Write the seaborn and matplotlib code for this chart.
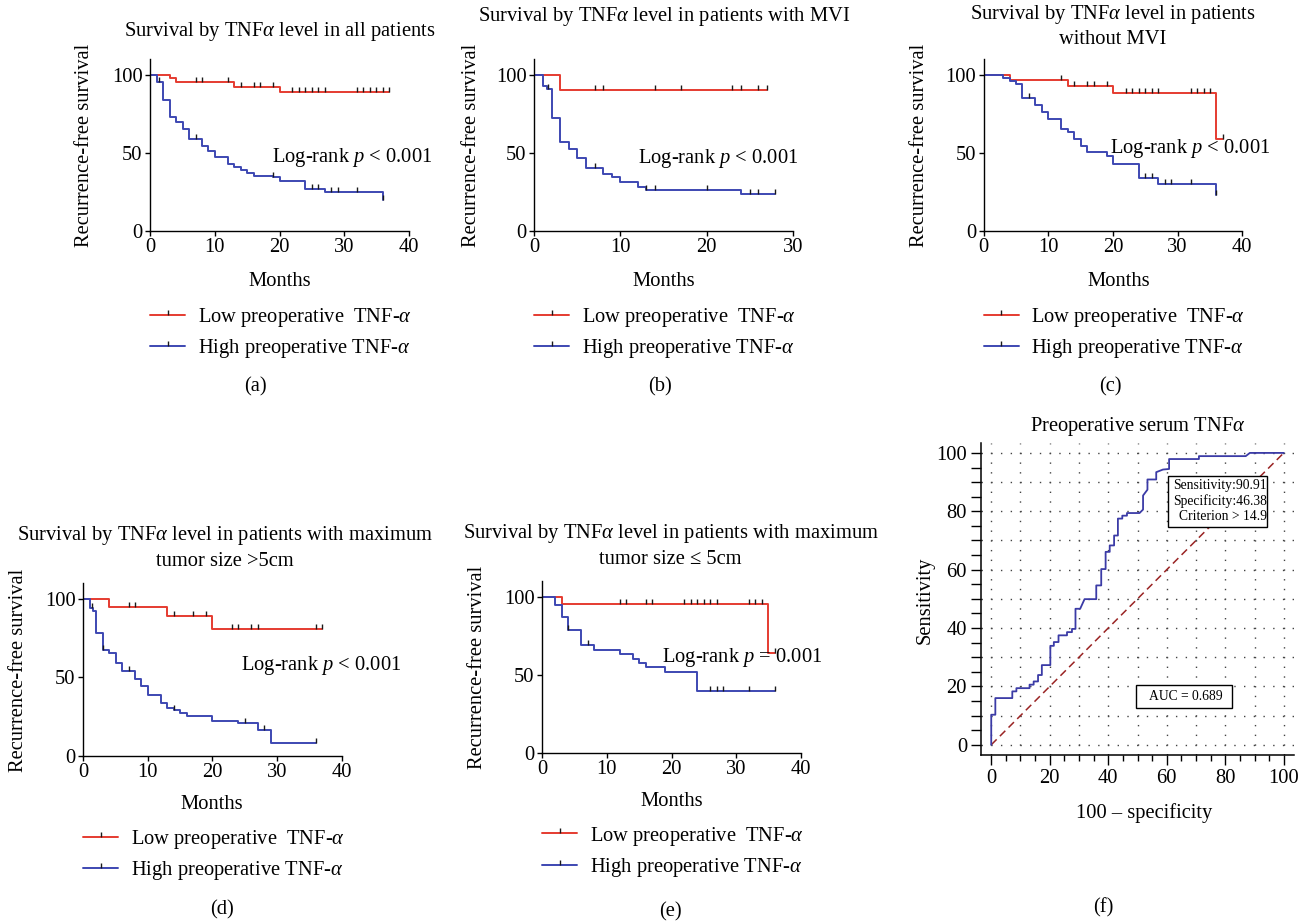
import numpy as np
import pandas as pd
import matplotlib
matplotlib.use("Agg")
import matplotlib.pyplot as plt
import seaborn as sns
from matplotlib.lines import Line2D
from matplotlib.patches import Rectangle
from matplotlib.ticker import MultipleLocator

sns.set_theme(style="ticks")
plt.rcParams["font.family"] = ["Liberation Serif", "DejaVu Serif"]
plt.rcParams["mathtext.fontset"] = "custom"
plt.rcParams["mathtext.rm"] = "Liberation Serif"
plt.rcParams["mathtext.it"] = "Liberation Serif:italic"
plt.rcParams["axes.edgecolor"] = "black"
plt.rcParams["xtick.color"] = "black"
plt.rcParams["ytick.color"] = "black"
plt.rcParams["text.color"] = "black"

# ---------------- data ----------------
# (a) all patients
a_low_t = [0, 3, 4, 13, 20, 37]
a_low_s = [100, 97.8, 95.3, 92.3, 89.0, 89.0]
a_low_c = [7, 8, 12, 14, 16, 17, 19, 22, 23, 24, 25, 26, 27, 32, 33, 34, 35, 36, 37]
a_high_t = [0, 1, 2, 3, 4, 5, 6, 8, 9, 10, 12, 13, 14, 15, 16, 19, 20, 24, 27, 36]
a_high_s = [100, 95.5, 84, 73.2, 69.8, 65.5, 58.5, 54.5, 50.8, 47.5, 42.8, 41, 39, 37.2, 35.3, 34.2, 31.8, 26.8, 24.8, 19.8]
a_high_c = [1.3, 7, 19, 25, 26, 28, 29, 32, 36]

# (b) patients with MVI
b_low_t = [0, 3, 27]
b_low_s = [100, 90.3, 90.3]
b_low_c = [7, 8, 14, 17, 23, 24, 26, 27]
b_high_t = [0, 1, 1.5, 2, 3, 4, 5, 6, 8, 9, 10, 12, 13, 24, 28]
b_high_s = [100, 93, 91, 72.5, 56.7, 52.1, 46.4, 40.5, 36.3, 34.2, 31.1, 27.7, 25.8, 23.7, 23.7]
b_high_c = [1.6, 7, 13, 14, 20, 25, 26, 28]

# (c) patients without MVI
c_low_t = [0, 4, 13, 20, 36, 37]
c_low_s = [100, 96.5, 92.8, 88.0, 58.5, 58.5]
c_low_c = [12, 14, 16, 17, 19, 22, 23, 24, 25, 26, 27, 32, 33, 34, 35, 37]
c_high_t = [0, 3, 4, 5, 6, 8, 9, 10, 12, 13, 14, 15, 16, 19, 20, 24, 27, 36]
c_high_s = [100, 97.7, 96, 93.8, 85, 80.5, 76, 71.5, 65.5, 63, 58.8, 54.5, 50.2, 48, 43, 33.5, 30.2, 23.2]
c_high_c = [7, 25, 26, 28, 29, 32, 36]

# (d) maximum tumor size > 5 cm
d_low_t = [0, 4, 13, 20, 37]
d_low_s = [100, 94.9, 88.9, 81.0, 81.0]
d_low_c = [7, 8, 14, 17, 19, 23, 24, 26, 27, 36, 37]
d_high_t = [0, 1, 1.5, 2, 3, 4, 5, 6, 8, 9, 10, 12, 13, 14, 15, 16, 20, 24, 27, 29, 36]
d_high_s = [100, 94.5, 92.5, 78.6, 67.2, 65.3, 59.4, 54, 48.7, 44.5, 38.7, 33.4, 30.4, 28.9, 27.4, 25.3, 22.3, 20.6, 16.4, 8.3, 8.3]
d_high_c = [1.3, 3.1, 7, 14, 25, 28, 36]

# (e) maximum tumor size <= 5 cm
e_low_t = [0, 3, 35, 36]
e_low_s = [100, 95.5, 64, 64]
e_low_c = [12, 13, 16, 17, 22, 23, 24, 25, 26, 27, 32, 33, 34, 36]
e_high_t = [0, 2, 3, 4, 6, 8, 12, 14, 15, 16, 19, 24, 36]
e_high_s = [100, 94.9, 87, 79.1, 68.9, 65.7, 63.3, 60.3, 57.6, 54.8, 51.8, 39.4, 39.4]
e_high_c = [4, 7, 26, 27, 28, 32, 36]

# (f) ROC curve of preoperative serum TNF-alpha
roc_fpr = [0, 0, 1.4, 1.4, 7.2, 7.2, 8.6, 8.6, 13.1, 13.1, 14.5, 14.5, 16, 16, 17.3, 17.3,
           20.2, 20.2, 21.4, 21.4, 23, 23, 25.9, 25.9, 27.6, 27.6, 28.8, 28.8, 30.4, 31.9,
           35.9, 35.9, 37.6, 37.6, 39.1, 39.1, 40.5, 40.5, 42, 42, 43.3, 43.3, 44.8, 44.8,
           46.4, 46.4, 50.7, 51.9, 51.9, 53.4, 53.4, 56.4, 56.4, 58.7, 60.8, 60.8, 71, 71,
           87, 88.4, 100]
roc_tpr = [0, 10.3, 10.3, 16, 16, 18.3, 18.3, 19.4, 19.4, 20.6, 20.6, 21.7, 21.7, 23.9, 23.9, 27.3,
           27.3, 33.9, 33.9, 35.2, 35.2, 37.5, 37.5, 38.6, 38.6, 39.7, 39.7, 46.6, 46.6, 49.9,
           49.9, 54.6, 54.6, 60.2, 60.2, 66.1, 66.1, 68.3, 68.3, 71.7, 71.7, 77.5, 77.5, 78.5,
           78.5, 79.4, 79.4, 80.6, 85.4, 87.4, 90.9, 90.9, 93.4, 94.3, 94.5, 97.9, 97.9, 98.9,
           98.9, 100, 100]
ref_line = [0, 100]

legend_labels = ["Low preoperative  TNF-$\\alpha$", "High preoperative TNF-$\\alpha$"]

# ---------------- styling ----------------
RED = "#e53b30"
BLUE = "#3d47b2"
TICKC = "#1a1a1a"
FS = 14.8

W, H = 1308, 921
fig = plt.figure(figsize=(W / 100, H / 100), dpi=100)
fig.patch.set_facecolor("white")


def add_ax(x0, x1, ybot, ytop):
    return fig.add_axes([x0 / W, 1 - ybot / H, (x1 - x0) / W, (ybot - ytop) / H])


def ftext(x, y, s, **kw):
    kw.setdefault("ha", "center")
    kw.setdefault("va", "center")
    kw.setdefault("fontsize", FS)
    fig.text(x / W, 1 - y / H, s, **kw)


def km_panel(ax, xmax, low, high, logrank_xy, logrank_txt, leg_y):
    for (t, s, c), col in [(low, RED), (high, BLUE)]:
        df = pd.DataFrame({"t": t, "s": s})
        sns.lineplot(data=df, x="t", y="s", ax=ax, color=col, lw=1.4,
                     drawstyle="steps-post", estimator=None, sort=False)
        t_arr = np.asarray(t, float)
        s_arr = np.asarray(s, float)
        idx = np.searchsorted(t_arr, np.asarray(c, float), side="right") - 1
        ax.plot(c, s_arr[idx], ls="none", marker=2, ms=3.4, mew=1.0, color=TICKC, zorder=3)
    ax.set_xlim(0, xmax)
    ax.set_ylim(0, 110)
    ax.set_xticks(np.arange(0, xmax + 1, 10))
    ax.set_yticks([0, 50, 100])
    ax.set_xlabel("")
    ax.set_ylabel("")
    sns.despine(ax=ax)
    for sp in ["left", "bottom"]:
        ax.spines[sp].set_linewidth(1.0)
    ax.tick_params(direction="out", length=3.5, width=1.0, labelsize=FS, pad=2)
    ax.set_facecolor("none")
    ax.text(logrank_xy[0], logrank_xy[1], logrank_txt, fontsize=FS, ha="left", va="center")
    handles = [Line2D([0], [0], color=RED, lw=1.4, marker=2, ms=3.8, mew=1.0, mec=TICKC),
               Line2D([0], [0], color=BLUE, lw=1.4, marker=2, ms=3.8, mew=1.0, mec=TICKC)]
    ax.legend(handles, legend_labels, loc="center left", bbox_to_anchor=(0, leg_y),
              frameon=False, fontsize=FS, handlelength=1.7, handletextpad=0.6,
              labelspacing=0.4, borderpad=0, borderaxespad=0, numpoints=1)


LR_LT = "Log-rank $p$ < 0.001"
LR_EQ = "Log-rank $p$ = 0.001"

# (a)
ax_a = add_ax(150.3, 408.7, 230.7, 59.1)
km_panel(ax_a, 40, (a_low_t, a_low_s, a_low_c), (a_high_t, a_high_s, a_high_c),
         (18.8, 47.2), LR_LT, (230.7 - 333) / 171.6)
ftext(280, 31.7, "Survival by TNF$\\alpha$ level in all patients")
ftext(85, 145, "Recurrence-free survival", rotation=90)
ftext(280, 281.7, "Months")
ftext(255, 387, "(a)")

# (b)
ax_b = add_ax(534.3, 792.7, 230.7, 59.1)
km_panel(ax_b, 30, (b_low_t, b_low_s, b_low_c), (b_high_t, b_high_s, b_high_c),
         (12.0, 46.4), LR_LT, (230.7 - 333) / 171.6)
ftext(664, 16.7, "Survival by TNF$\\alpha$ level in patients with MVI")
ftext(472, 145, "Recurrence-free survival", rotation=90)
ftext(664, 281.7, "Months")
ftext(660, 387, "(b)")

# (c)
ax_c = add_ax(983.7, 1242.3, 230.7, 59.1)
km_panel(ax_c, 40, (c_low_t, c_low_s, c_low_c), (c_high_t, c_high_s, c_high_c),
         (19.5, 52.6), LR_LT, (230.7 - 333) / 171.6)
ftext(1112.5, 15, "Survival by TNF$\\alpha$ level in patients")
ftext(1112.5, 40, "without MVI")
ftext(920, 145, "Recurrence-free survival", rotation=90)
ftext(1119, 281.7, "Months")
ftext(1110, 387, "(c)")

# (d)
ax_d = add_ax(83.3, 341.7, 755.7, 583.3)
km_panel(ax_d, 40, (d_low_t, d_low_s, d_low_c), (d_high_t, d_high_s, d_high_c),
         (24.4, 57.4), LR_LT, (755.7 - 855) / 172.4)
ftext(225, 535.7, "Survival by TNF$\\alpha$ level in patients with maximum")
ftext(225, 561.7, "tumor size >5cm")
ftext(19, 670, "Recurrence-free survival", rotation=90)
ftext(212, 804, "Months")
ftext(222, 910, "(d)")

# (e)
ax_e = add_ax(542.3, 800.7, 752.7, 581.4)
km_panel(ax_e, 40, (e_low_t, e_low_s, e_low_c), (e_high_t, e_high_s, e_high_c),
         (18.5, 61.0), LR_EQ, (752.7 - 851.7) / 171.3)
ftext(670.7, 533.3, "Survival by TNF$\\alpha$ level in patients with maximum")
ftext(670.7, 559.3, "tumor size \u2264 5cm")
ftext(477, 667, "Recurrence-free survival", rotation=90)
ftext(672, 801.7, "Months")
ftext(670.7, 911.7, "(e)")

# (f) ROC
ax_f = add_ax(981, 1294, 755, 442.7)
ax_f.set_xlim(-3.5, 103.5)
ax_f.set_ylim(-3.5, 103.5)
for v in np.arange(0, 101, 10):
    ax_f.axhline(v, color="#444444", lw=1.0, ls=(0, (1, 6)), zorder=0)
    ax_f.axvline(v, color="#444444", lw=1.0, ls=(0, (1, 6)), zorder=0)
sns.lineplot(x=ref_line, y=ref_line, ax=ax_f, color="#9a2424", lw=1.1,
             dashes=False, linestyle=(0, (5, 3)), estimator=None, sort=False)
sns.lineplot(x=roc_fpr, y=roc_tpr, ax=ax_f, color="#3b3ba6", lw=1.3,
             estimator=None, sort=False)
ax_f.set_xticks(np.arange(0, 101, 20))
ax_f.set_yticks(np.arange(0, 101, 20))
ax_f.xaxis.set_minor_locator(MultipleLocator(5))
ax_f.yaxis.set_minor_locator(MultipleLocator(5))
ax_f.tick_params(which="major", direction="out", length=7, width=1.0, labelsize=FS, pad=3)
ax_f.tick_params(axis="x", which="minor", direction="out", length=4, width=1.0)
ax_f.tick_params(axis="y", which="minor", direction="out", length=7, width=1.0)
sns.despine(ax=ax_f)
for sp in ["left", "bottom"]:
    ax_f.spines[sp].set_linewidth(1.1)
ax_f.set_xlabel("")
ax_f.set_ylabel("")
ax_f.set_facecolor("none")
ax_f.add_patch(Rectangle((60.3, 74.7), 33.9, 17.5, fill=True, fc="white", ec="black", lw=1.0, zorder=4))
ax_f.text(78.1, 83.5, "Sensitivity:90.91\nSpecificity:46.38\nCriterion > 14.9", fontsize=9.8,
          ha="center", va="center", multialignment="right", linespacing=1.2, zorder=5)
ax_f.add_patch(Rectangle((49.4, 12.7), 32.8, 7.9, fill=True, fc="white", ec="black", lw=1.0, zorder=4))
ax_f.text(66.5, 16.7, "AUC = 0.689", fontsize=9.8, ha="center", va="center", zorder=5)
ftext(1138, 426.7, "Preoperative serum TNF$\\alpha$")
ftext(925, 600, "Sensitivity", rotation=90)
ftext(1144, 813, "100 \u2013 specificity")
ftext(1103, 908, "(f)")

fig.savefig("out.png", dpi=100, facecolor="white")
